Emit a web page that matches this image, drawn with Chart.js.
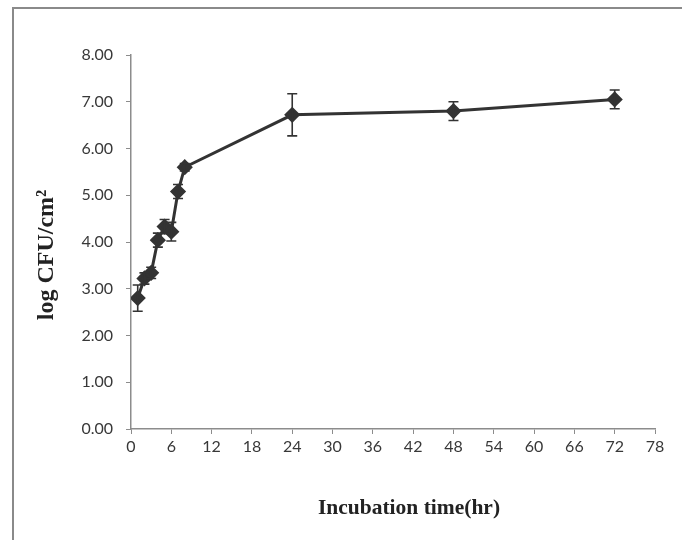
<!DOCTYPE html>
<html>
<head>
<meta charset="utf-8">
<script src="https://cdn.jsdelivr.net/npm/chart.js@4.4.1/dist/chart.umd.min.js"></script>
<style>
  html, body { margin: 0; padding: 0; background: #fff; }
  #wrap { position: relative; width: 682px; height: 540px; }
  #frame { position: absolute; left: 12px; top: 7px; width: 680px; height: 540px;
           border-left: 2px solid #8a8a8a; border-top: 2px solid #8a8a8a; box-sizing: border-box; pointer-events: none; }
  canvas { position: absolute; left: 0; top: 0; }
</style>
</head>
<body>
<div id="wrap">
  <canvas id="c" width="682" height="540"></canvas>
  <div id="frame"></div>
</div>
<script>
const times = [1, 2, 3, 4, 5, 6, 7, 8, 24, 48, 72];
const logCfu = [2.80, 3.22, 3.34, 4.04, 4.33, 4.22, 5.08, 5.60, 6.72, 6.80, 7.05];
const errors = [0.28, 0.12, 0.12, 0.15, 0.15, 0.20, 0.15, 0.08, 0.45, 0.20, 0.20];
const xTitle = 'Incubation time(hr)';
const yTitle = 'log CFU/cm\u00B2';

const points = times.map((t, i) => ({ x: t, y: logCfu[i] }));

const errorBarPlugin = {
  id: 'errorBars',
  afterDatasetsDraw(chart) {
    const ctx = chart.ctx;
    const xs = chart.scales.x, ys = chart.scales.y;
    ctx.save();
    ctx.strokeStyle = '#333';
    ctx.lineWidth = 1.6;
    times.forEach((t, i) => {
      const px = xs.getPixelForValue(t);
      const top = ys.getPixelForValue(logCfu[i] + errors[i]);
      const bot = ys.getPixelForValue(logCfu[i] - errors[i]);
      ctx.beginPath();
      ctx.moveTo(px, top); ctx.lineTo(px, bot);
      ctx.moveTo(px - 5, top); ctx.lineTo(px + 5, top);
      ctx.moveTo(px - 5, bot); ctx.lineTo(px + 5, bot);
      ctx.stroke();
    });
    ctx.restore();
  }
};

const axisTitlePlugin = {
  id: 'axisTitles',
  afterDraw(chart) {
    const ctx = chart.ctx;
    const xs = chart.scales.x, ys = chart.scales.y;
    ctx.save();
    ctx.fillStyle = '#222';
    ctx.textAlign = 'center';
    ctx.textBaseline = 'middle';
    ctx.font = 'bold 21.5px "Liberation Serif"';
    ctx.fillText(xTitle, (xs.left + xs.right) / 2 + 16, xs.top + 79);
    ctx.translate(47, (ys.top + ys.bottom) / 2 + 13);
    ctx.rotate(-Math.PI / 2);
    ctx.font = 'bold 24px "Liberation Serif"';
    ctx.fillText(yTitle, 0, 0);
    ctx.restore();
  }
};

new Chart(document.getElementById('c'), {
  type: 'scatter',
  data: {
    datasets: [{
      data: points,
      showLine: true,
      borderColor: '#333',
      backgroundColor: '#333',
      borderWidth: 3,
      pointStyle: 'rectRot',
      pointRadius: 6,
      pointHoverRadius: 6
    }]
  },
  options: {
    responsive: false,
    animation: false,
    layout: { padding: { left: 0, right: 27, top: 55, bottom: 0 } },
    plugins: { legend: { display: false }, tooltip: { enabled: false } },
    scales: {
      x: {
        type: 'linear',
        min: 0, max: 78,
        afterBuildTicks(scale) {
          const t = [];
          for (let v = 0; v <= 78; v += 6) t.push({ value: v });
          scale.ticks = t;
        },
        afterFit(scale) { scale.height = 111; },
        grid: { drawOnChartArea: false, drawTicks: true, tickLength: 5, color: '#8c8c8c' },
        border: { color: '#8c8c8c', width: 1.5 },
        ticks: { color: '#383838', font: { family: 'Lato', size: 16 }, padding: 3, maxRotation: 0 },
        title: { display: false }
      },
      y: {
        min: 0, max: 8,
        afterBuildTicks(scale) {
          const t = [];
          for (let v = 0; v <= 8; v += 1) t.push({ value: v });
          scale.ticks = t;
        },
        afterFit(scale) { scale.width = 131; },
        grid: { drawOnChartArea: false, drawTicks: true, tickLength: 5, color: '#8c8c8c' },
        border: { color: '#8c8c8c', width: 1.5 },
        ticks: { color: '#383838', font: { family: 'Lato', size: 16 }, padding: 13,
                 callback: v => Number(v).toFixed(2) },
        title: { display: false }
      }
    }
  },
  plugins: [errorBarPlugin, axisTitlePlugin]
});
</script>
</body>
</html>
